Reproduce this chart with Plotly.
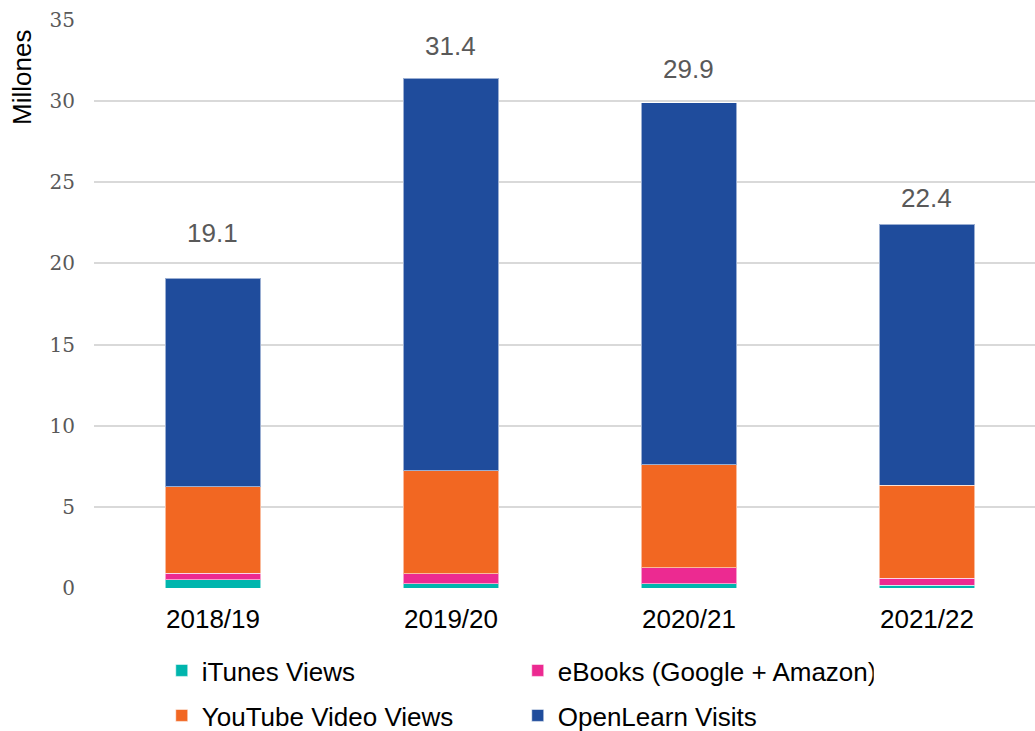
import plotly.graph_objects as go

# Reach of Open University free content, millions
years = ["2018/19", "2019/20", "2020/21", "2021/22"]
itunes_views = [0.50, 0.27, 0.25, 0.18]
ebooks = [0.41, 0.60, 0.99, 0.41]
youtube_views = [5.34, 6.35, 6.35, 5.73]
openlearn_visits = [12.85, 24.18, 22.31, 16.08]

series_names = ["iTunes Views", "eBooks (Google + Amazon)",
                "YouTube Video Views", "OpenLearn Visits"]
series_values = [itunes_views, ebooks, youtube_views, openlearn_visits]
series_colors = ["#00B5AD", "#EC2A91", "#F26722", "#1F4C9C"]
# two legend rows: first two series on top, the others below
series_legend = ["legend", "legend", "legend2", "legend2"]

totals = [round(sum(v), 1) for v in zip(*series_values)]
# vertical lift (px) of each total label above its bar
label_lift = [45, 32, 34, 26]

fig = go.Figure()
for name, vals, col, lg in zip(series_names, series_values, series_colors, series_legend):
    fig.add_trace(go.Bar(
        x=years, y=vals, name=name, legend=lg,
        marker=dict(color=col, line=dict(color="rgba(255,255,255,0.55)", width=1)),
    ))

for yr, tot, lift in zip(years, totals, label_lift):
    fig.add_annotation(
        x=yr, y=tot, text=f"{tot:.1f}", showarrow=False,
        yanchor="middle", yshift=lift,
        font=dict(family="Liberation Sans, Arial", size=26, color="#595959"),
    )

fig.add_annotation(
    xref="paper", yref="paper", x=-0.0765, y=0.898,
    text="Millones", textangle=-90, showarrow=False,
    xanchor="center", yanchor="middle",
    font=dict(family="Liberation Sans, Arial", size=26, color="#000000"),
)

legend_style = dict(
    orientation="h", traceorder="normal",
    x=0.072, xanchor="left", yanchor="top",
    entrywidth=311, entrywidthmode="pixels",
    font=dict(family="Liberation Sans, Arial", size=26, color="#000000"),
    bgcolor="rgba(0,0,0,0)",
)

fig.update_layout(
    width=1035, height=731,
    margin=dict(l=94, r=0, t=20, b=143, autoexpand=False),
    paper_bgcolor="white", plot_bgcolor="white",
    barmode="stack", bargap=0.597,
    showlegend=True,
    legend=dict(legend_style, y=-0.1039),
    legend2=dict(legend_style, y=-0.1831),
    xaxis=dict(
        range=[-0.5, 3.454], showgrid=False, showline=False, zeroline=False,
        tickfont=dict(family="Liberation Sans, Arial", size=26, color="#000000"),
        ticklabelstandoff=13,
    ),
    yaxis=dict(
        range=[0, 35], dtick=5, tick0=0,
        showgrid=True, gridcolor="#D9D9D9", gridwidth=1.5,
        zeroline=False, showline=False,
        tickfont=dict(family="DejaVu Serif", size=20, color="#595959"),
        ticklabelstandoff=18,
    ),
)

fig.write_html("out.html")
